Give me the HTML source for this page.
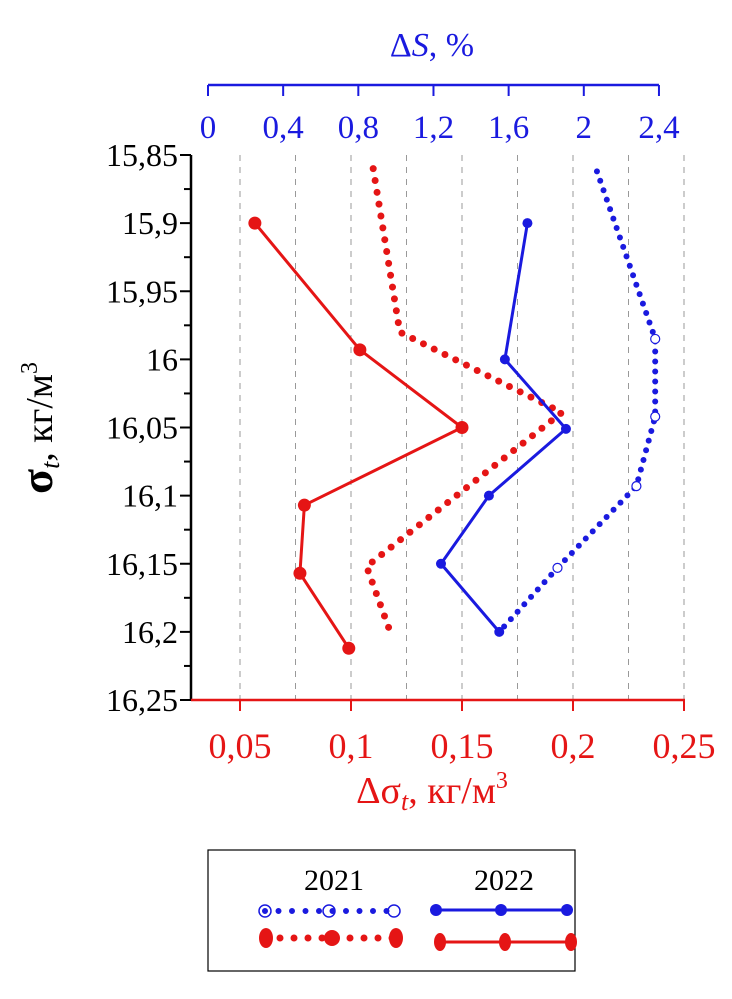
<!DOCTYPE html>
<html><head><meta charset="utf-8"><style>
html,body{margin:0;padding:0;background:#fff;}
svg{display:block;font-family:"Liberation Serif",serif;}
</style></head><body>
<svg id="chart" width="732" height="999" viewBox="0 0 732 999" xmlns="http://www.w3.org/2000/svg">
<g id="grid"></g>
<g id="axes"></g>
<g id="series"></g>
<text x="432" y="56" fill="#1a1adf" font-size="34" text-anchor="middle">Δ<tspan font-style="italic">S</tspan>, %</text>
<text x="432" y="803" fill="#e51515" font-size="38" text-anchor="middle">Δσ<tspan font-style="italic" font-size="26" dy="7">t</tspan><tspan dy="-7">, кг/м</tspan><tspan font-size="24" dy="-15">3</tspan></text>
<text transform="translate(52,428) rotate(-90)" fill="#000" font-size="38" text-anchor="middle"><tspan font-size="46" font-weight="bold">σ</tspan><tspan font-style="italic" font-size="26" dy="7">t</tspan><tspan dy="-7">, кг/м</tspan><tspan font-size="24" dy="-15">3</tspan></text>
<g>
<rect x="208" y="850" width="367" height="121" fill="#fff" stroke="#000" stroke-width="1.2"/>
<text x="334" y="890" font-size="30" text-anchor="middle">2021</text>
<text x="504" y="890" font-size="30" text-anchor="middle">2022</text>
<g>
<line x1="265" y1="911" x2="395" y2="911" stroke="#1a1adf" stroke-width="6" stroke-linecap="round" stroke-dasharray="0 13.5"/>
<circle cx="265" cy="911" r="6" fill="none" stroke="#1a1adf" stroke-width="1.5"/><circle cx="329" cy="911" r="6" fill="none" stroke="#1a1adf" stroke-width="1.5"/><circle cx="394" cy="911" r="6" fill="none" stroke="#1a1adf" stroke-width="1.5"/>
</g>
<g>
<line x1="266" y1="938" x2="396" y2="938" stroke="#e51515" stroke-width="7" stroke-linecap="round" stroke-dasharray="0 14"/>
<ellipse cx="266" cy="938" rx="7" ry="10" fill="#e51515"/><ellipse cx="332" cy="938" rx="8" ry="8" fill="#e51515"/><ellipse cx="396" cy="938" rx="7" ry="10" fill="#e51515"/>
</g>
<g>
<line x1="436" y1="910" x2="567" y2="910" stroke="#1a1adf" stroke-width="3"/>
<circle cx="436" cy="910" r="6" fill="#1a1adf"/><circle cx="501" cy="910" r="6" fill="#1a1adf"/><circle cx="567" cy="910" r="6" fill="#1a1adf"/>
</g>
<g>
<line x1="440" y1="942" x2="571" y2="942" stroke="#e51515" stroke-width="3"/>
<ellipse cx="440" cy="942" rx="6" ry="9" fill="#e51515"/><ellipse cx="505" cy="942" rx="6" ry="9" fill="#e51515"/><ellipse cx="571" cy="942" rx="6" ry="9" fill="#e51515"/>
</g>
</g>
</svg>
<script>
const yTicks = [15.85,15.9,15.95,16,16.05,16.1,16.15,16.2,16.25];
const yTickLabels = ["15,85","15,9","15,95","16","16,05","16,1","16,15","16,2","16,25"];
const bottomTicks = [0.05,0.1,0.15,0.2,0.25];
const bottomTickLabels = ["0,05","0,1","0,15","0,2","0,25"];
const topTicks = [0,0.4,0.8,1.2,1.6,2,2.4];
const topTickLabels = ["0","0,4","0,8","1,2","1,6","2","2,4"];
const gridValues = [0.05,0.075,0.1,0.125,0.15,0.175,0.2,0.225,0.25];
const red2022Sigma = [15.9,15.993,16.05,16.107,16.157,16.212];
const red2022Delta = [0.0567,0.104,0.15,0.079,0.077,0.099];
const red2021Sigma = [15.86,15.98,16.039,16.152,16.197];
const red2021Delta = [0.110,0.122,0.195,0.107,0.117];
const blue2022Sigma = [15.9,16.0,16.051,16.1,16.15,16.2];
const blue2022S = [1.70,1.58,1.905,1.495,1.24,1.55];
const blue2021Sigma = [15.862,15.985,16.042,16.093,16.153,16.2];
const blue2021S = [2.07,2.38,2.38,2.28,1.86,1.55];

const NS="http://www.w3.org/2000/svg";
const xB = v => 195.6 + (v-0.03)*2220;
const xT = v => 208 + v*187.9;
const yS = v => 155 + (v-15.85)*1362.5;
function mk(tag, attrs, parent){const e=document.createElementNS(NS,tag);for(const k in attrs)e.setAttribute(k,attrs[k]);parent.appendChild(e);return e;}
const grid=document.getElementById('grid'), axes=document.getElementById('axes'), series=document.getElementById('series');

gridValues.forEach(v=>{
  const l=mk('line',{x1:xB(v),x2:xB(v),y1:155,y2:700,stroke:'#999','stroke-width':1,'stroke-dasharray':'6 6'},grid);
  
  
});
let la=mk('line',{x1:191,x2:191,y1:155,y2:701,stroke:'#000','stroke-width':2.5},axes);


yTicks.forEach((v,i)=>{
  mk('line',{x1:180,x2:191,y1:yS(v),y2:yS(v),stroke:'#000','stroke-width':2},axes);
  if(i<yTicks.length-1) mk('line',{x1:184,x2:191,y1:yS(v+0.025),y2:yS(v+0.025),stroke:'#000','stroke-width':2},axes);
  const t=mk('text',{x:178,y:yS(v)+11,'font-size':32,'text-anchor':'end',fill:'#000'},axes);
  t.textContent=yTickLabels[i];
  
  
});
let ba=mk('line',{x1:191,x2:685,y1:700,y2:700,stroke:'#e51515','stroke-width':2.5},axes);


bottomTicks.forEach((v,i)=>{
  mk('line',{x1:xB(v),x2:xB(v),y1:700,y2:711,stroke:'#e51515','stroke-width':2},axes);
  const t=mk('text',{x:xB(v),y:758,'font-size':36,'text-anchor':'middle',fill:'#e51515'},axes);
  t.textContent=bottomTickLabels[i];
  
  
});
let ta=mk('line',{x1:xT(0),x2:xT(2.4),y1:85,y2:85,stroke:'#1a1adf','stroke-width':2.5},axes);


topTicks.forEach((v,i)=>{
  mk('line',{x1:xT(v),x2:xT(v),y1:85,y2:96,stroke:'#1a1adf','stroke-width':2},axes);
  const t=mk('text',{x:xT(v),y:138,'font-size':33,'text-anchor':'middle',fill:'#1a1adf'},axes);
  t.textContent=topTickLabels[i];
  
  
});

function pts(xs,ys,fx){return xs.map((v,i)=>fx(v)+','+yS(ys[i])).join(' ');}
let p=mk('polyline',{points:pts(red2021Delta,red2021Sigma,xB),fill:'none',stroke:'#e51515','stroke-width':7,'stroke-linecap':'round','stroke-dasharray':'0 12'},series);


p=mk('polyline',{points:pts(blue2021S,blue2021Sigma,xT),fill:'none',stroke:'#1a1adf','stroke-width':6,'stroke-linecap':'round','stroke-dasharray':'0 10'},series);


blue2021S.forEach((v,i)=>{
  if(i===0||i===blue2021S.length-1)return;
  const c=mk('circle',{cx:xT(v),cy:yS(blue2021Sigma[i]),r:4.5,fill:'#fff',stroke:'#1a1adf','stroke-width':1.2},series);
  
  
});
p=mk('polyline',{points:pts(blue2022S,blue2022Sigma,xT),fill:'none',stroke:'#1a1adf','stroke-width':3},series);


blue2022S.forEach((v,i)=>{
  const c=mk('circle',{cx:xT(v),cy:yS(blue2022Sigma[i]),r:5,fill:'#1a1adf'},series);
  
  
});
p=mk('polyline',{points:pts(red2022Delta,red2022Sigma,xB),fill:'none',stroke:'#e51515','stroke-width':3},series);


red2022Delta.forEach((v,i)=>{
  const c=mk('circle',{cx:xB(v),cy:yS(red2022Sigma[i]),r:6.5,fill:'#e51515'},series);
  
  
});
</script>
</body></html>
